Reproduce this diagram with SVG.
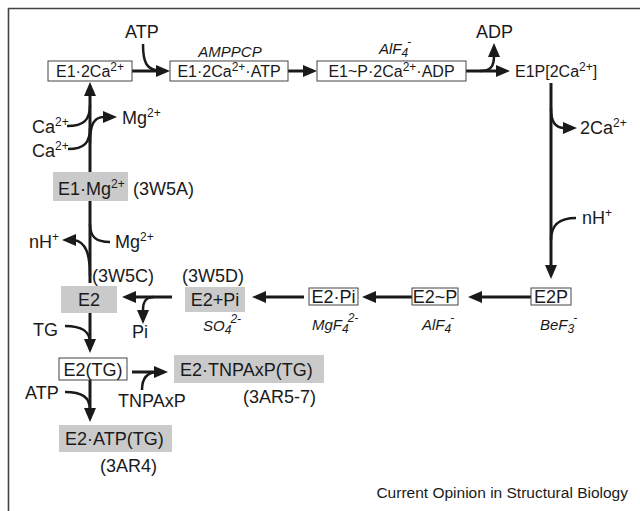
<svg xmlns="http://www.w3.org/2000/svg" width="640" height="511" viewBox="0 0 640 511">
<defs>
<style>
text{font-family:"Liberation Sans",Arial,sans-serif;fill:#1a1a1a}
.t{font-size:18px}
.bt{font-size:16px}
.it{font-size:15px;font-style:italic}
.cap{font-size:15.5px}
.s{font-size:12px}
.box{fill:#fff;stroke:#444;stroke-width:1}
.gbox{fill:#cacaca;stroke:none}
.ln{fill:none;stroke:#1a1a1a;stroke-width:3}
.br{fill:none;stroke:#1a1a1a;stroke-width:2.5}
.frame{fill:none;stroke:#444;stroke-width:1.6}
</style>
<marker id="ah" markerUnits="userSpaceOnUse" markerWidth="14" markerHeight="12" refX="10" refY="6" orient="auto">
<path d="M0,0 L14,6 L0,12 z" fill="#1a1a1a"/>
</marker>
</defs>
<rect width="640" height="511" fill="#fff"/>
<path class="frame" d="M8.5,511 V8.5 H640"/>

<g id="connectors">
<path class="ln" d="M132,71 H166" marker-end="url(#ah)"/>
<path class="br" d="M143,44 C143,62 146,71 162,71"/>
<path class="ln" d="M288,71 H313" marker-end="url(#ah)"/>
<path class="ln" d="M466,71 H506" marker-end="url(#ah)"/>
<path class="br" d="M480,71 C491,71 494,66 494,56 V47" marker-end="url(#ah)"/>
<path class="ln" d="M551,83 V275" marker-end="url(#ah)"/>
<path class="br" d="M551,108 C551,122 555,128 565,128 H573" marker-end="url(#ah)"/>
<path class="br" d="M576,218 C560,218 551,224 551,240"/>
<path class="ln" d="M531,297 H472" marker-end="url(#ah)"/>
<path class="ln" d="M412,297 H366" marker-end="url(#ah)"/>
<path class="ln" d="M304,297 H256" marker-end="url(#ah)"/>
<path class="ln" d="M172,297 H126" marker-end="url(#ah)"/>
<path class="br" d="M154,297 C146,297 143,301 143,310 V320" marker-end="url(#ah)"/>
<path class="ln" d="M90,172 V86" marker-end="url(#ah)"/>
<path class="br" d="M67,126 C84,126 90,120 90,105"/>
<path class="br" d="M68,149 C84,149 90,143 90,128"/>
<path class="br" d="M90,143 C90,124 94,117 104,117 H113" marker-end="url(#ah)"/>
<path class="ln" d="M90,201 V283"/>
<path class="br" d="M110,242 C96,242 90,237 90,224"/>
<path class="br" d="M90,276 C90,254 86,242 74,240 L66,240" marker-end="url(#ah)"/>
<path class="br" d="M65,326 C82,326 90,331 90,343"/>
<path class="ln" d="M90,313 V349" marker-end="url(#ah)"/>
<path class="ln" d="M132,372 H164" marker-end="url(#ah)"/>
<path class="br" d="M142,390 C142,379 146,372 158,372"/>
<path class="ln" d="M90,380 V418" marker-end="url(#ah)"/>
<path class="br" d="M65,392 C82,392 90,397 90,410"/>
</g>

<g id="n-E1-2Ca">
<rect class="box" x="48" y="61" width="84" height="20"/>
<text class="bt" x="90" y="77" text-anchor="middle">E1·2Ca<tspan class="s" dy="-6">2+</tspan></text>
</g>
<g id="n-E1-2Ca-ATP">
<rect class="box" x="170" y="61" width="118" height="20"/>
<text class="bt" x="229" y="77" text-anchor="middle">E1·2Ca<tspan class="s" dy="-6">2+</tspan><tspan dy="6">·ATP</tspan></text>
<text class="it" x="230" y="57" text-anchor="middle">AMPPCP</text>
</g>
<g id="n-E1-P-2Ca-ADP">
<rect class="box" x="317" y="61" width="149" height="20"/>
<text class="bt" x="391.5" y="77" text-anchor="middle">E1~P·2Ca<tspan class="s" dy="-6">2+</tspan><tspan dy="6">·ADP</tspan></text>
<text class="it" x="379" y="54">AlF<tspan class="s" dy="3">4</tspan><tspan class="s" dx="-1" dy="-11">-</tspan></text>
</g>
<g id="n-E1P">
<text class="bt" x="515" y="77">E1P[2Ca<tspan class="s" dy="-6">2+</tspan><tspan dy="6">]</tspan></text>
</g>
<g id="n-E2P">
<rect class="box" x="531" y="288" width="40" height="17"/>
<text class="t" x="551" y="302.5" text-anchor="middle">E2P</text>
<text class="it" x="540" y="330">BeF<tspan class="s" dy="3">3</tspan><tspan class="s" dx="-1" dy="-11">-</tspan></text>
</g>
<g id="n-E2-P">
<rect class="box" x="412" y="288" width="46" height="17"/>
<text class="t" x="435" y="302.5" text-anchor="middle">E2~P</text>
<text class="it" x="422" y="330">AlF<tspan class="s" dy="3">4</tspan><tspan class="s" dx="-1" dy="-11">-</tspan></text>
</g>
<g id="n-E2-Pi">
<rect class="box" x="309" y="288" width="49" height="17"/>
<text class="t" x="333.5" y="302.5" text-anchor="middle">E2·Pi</text>
<text class="it" x="312" y="330">MgF<tspan class="s" dy="3">4</tspan><tspan class="s" dx="-1" dy="-11">2-</tspan></text>
</g>
<g id="n-E2plusPi">
<rect class="gbox" x="185" y="287" width="60" height="25"/>
<text class="t" x="215" y="306" text-anchor="middle">E2+Pi</text>
<text class="t" x="213" y="282" text-anchor="middle">(3W5D)</text>
<text class="it" x="203" y="331">SO<tspan class="s" dy="3">4</tspan><tspan class="s" dx="-1" dy="-11">2-</tspan></text>
</g>
<g id="n-E2">
<rect class="gbox" x="61" y="286" width="56" height="27"/>
<text class="t" x="89" y="306" text-anchor="middle">E2</text>
<text class="t" x="92" y="282">(3W5C)</text>
</g>
<g id="n-E1-Mg">
<rect class="gbox" x="53" y="172" width="75" height="29"/>
<text class="t" x="58" y="195">E1·Mg<tspan class="s" dy="-7">2+</tspan></text>
<text class="t" x="133" y="195">(3W5A)</text>
</g>
<g id="n-E2-TG">
<rect class="box" x="59" y="358" width="68" height="22"/>
<text class="t" x="93" y="376" text-anchor="middle">E2(TG)</text>
</g>
<g id="n-E2-TNPAxP-TG">
<rect class="gbox" x="174" y="355" width="150" height="28"/>
<text class="t" x="180" y="376">E2·TNPAxP(TG)</text>
<text class="t" x="243" y="403">(3AR5-7)</text>
</g>
<g id="n-E2-ATP-TG">
<rect class="gbox" x="59" y="425" width="113" height="27"/>
<text class="t" x="65" y="445">E2·ATP(TG)</text>
<text class="t" x="100" y="472">(3AR4)</text>
</g>

<g id="labels">
<text class="t" x="125" y="38">ATP</text>
<text class="t" x="476" y="38">ADP</text>
<text class="t" x="580" y="134">2Ca<tspan class="s" dy="-7">2+</tspan></text>
<text class="t" x="582" y="224">nH<tspan class="s" dy="-7">+</tspan></text>
<text class="t" x="32" y="133">Ca<tspan class="s" dy="-7">2+</tspan></text>
<text class="t" x="32" y="157">Ca<tspan class="s" dy="-7">2+</tspan></text>
<text class="t" x="122" y="124">Mg<tspan class="s" dy="-7">2+</tspan></text>
<text class="t" x="115" y="248">Mg<tspan class="s" dy="-7">2+</tspan></text>
<text class="t" x="29" y="248">nH<tspan class="s" dy="-7">+</tspan></text>
<text class="t" x="132" y="338">Pi</text>
<text class="t" x="33" y="336">TG</text>
<text class="t" x="118" y="407">TNPAxP</text>
<text class="t" x="25" y="399">ATP</text>
<text class="cap" x="628" y="498" text-anchor="end">Current Opinion in Structural Biology</text>
</g>
</svg>
